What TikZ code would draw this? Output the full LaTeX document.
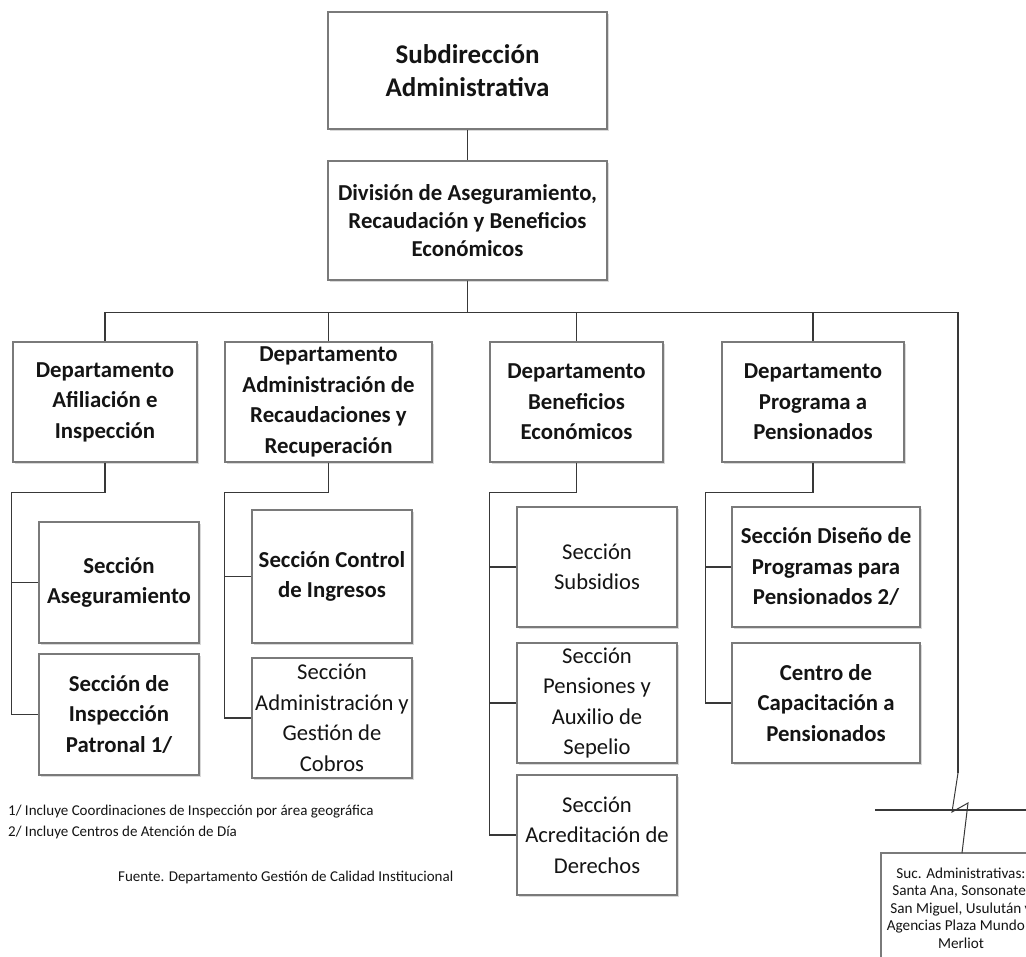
\documentclass[tikz,border=0pt]{standalone}
\usepackage{fontspec}
\setmainfont{Carlito}
\usetikzlibrary{shadows}
\definecolor{linec}{HTML}{383838}
\definecolor{boxc}{HTML}{7A7A7A}
\definecolor{txtc}{HTML}{141414}
\begin{document}
\begin{tikzpicture}[x=1pt,y=-1pt,
  box/.style={draw=boxc, line width=1.2pt, fill=white, align=center, inner sep=0pt,
    text=txtc, drop shadow={shadow xshift=2pt, shadow yshift=-2pt, fill=black, opacity=0.15}},
  conn/.style={draw=linec, line width=1.7pt},
  titlefont/.style={font=\bfseries\fontsize{27}{33}\selectfont},
  divfont/.style={font=\bfseries\fontsize{22.8}{28}\selectfont},
  hb/.style={font=\bfseries\fontsize{22.8}{30.5}\selectfont},
  hr/.style={font=\fontsize{22.6}{30.5}\selectfont},
  smallfont/.style={font=\fontsize{15.2}{17.5}\selectfont},
  note/.style={font=\fontsize{15}{17}\selectfont, anchor=west, inner sep=0pt, text=txtc}
]
\useasboundingbox (0,0) rectangle (1026,957);
\clip (0,0) rectangle (1026,957);

% top levels
\node[box, titlefont, minimum width=279pt, minimum height=117pt] (sub) at (467.5,70.5)
  {Subdirección\\Administrativa};
\node[box, divfont, minimum width=279pt, minimum height=119pt] (div) at (467.5,220.5)
  {División de Aseguramiento,\\Recaudación y Beneficios\\Económicos};

% departments
\node[box, hb, minimum width=184pt, minimum height=120pt] (d1) at (105,402)
  {Departamento\\Afiliación e\\Inspección};
\node[box, hb, minimum width=207pt, minimum height=120pt] (d2) at (328.5,402)
  {Departamento\\Administración de\\Recaudaciones y\\Recuperación};
\node[box, hb, minimum width=173pt, minimum height=120pt] (d3) at (576.5,402)
  {Departamento\\Beneficios\\Económicos};
\node[box, hb, minimum width=182pt, minimum height=120pt] (d4) at (813,402)
  {Departamento\\Programa a\\Pensionados};

% sections
\node[box, hb, minimum width=160pt, minimum height=121pt] (s11) at (119,582.5)
  {Sección\\Aseguramiento};
\node[box, hb, minimum width=160pt, minimum height=121pt] (s12) at (119,714.5)
  {Sección de\\Inspección\\Patronal 1/};
\node[box, hb, minimum width=160pt, minimum height=133pt] (s21) at (332,576.5)
  {Sección Control\\de Ingresos};
\node[box, hr, minimum width=160pt, minimum height=120pt] (s22) at (332,718)
  {Sección\\Administración y\\Gestión de\\Cobros};
\node[box, hr, minimum width=160pt, minimum height=120pt] (s31) at (597,567)
  {Sección\\Subsidios};
\node[box, hr, minimum width=160pt, minimum height=120pt] (s32) at (597,703)
  {Sección\\Pensiones y\\Auxilio de\\Sepelio};
\node[box, hr, minimum width=160pt, minimum height=120pt] (s33) at (597,835)
  {Sección\\Acreditación de\\Derechos};
\node[box, hb, minimum width=188pt, minimum height=120pt] (s41) at (826,567)
  {Sección Diseño de\\Programas para\\Pensionados 2/};
\node[box, hb, minimum width=188pt, minimum height=120pt] (s42) at (826,703)
  {Centro de\\Capacitación a\\Pensionados};

% branch offices
\node[box, smallfont, minimum width=160pt, minimum height=110pt] (suc) at (961,908)
  {Suc. Administrativas:\\Santa Ana, Sonsonate,\\San Miguel, Usulután y\\Agencias Plaza Mundo y\\Merliot};

% notes
\node[note] (fn1) at (8,812) {1/ Incluye Coordinaciones de Inspección por área geográfica};
\node[note] (fn2) at (8,832) {2/ Incluye Centros de Atención de Día};
\node[note] (src) at (118,877) {Fuente. Departamento Gestión de Calidad Institucional};

% break marks on the branch-office line
\coordinate (zz1) at (958,773);
\coordinate (zz2) at (952,812);
\coordinate (zz3) at (968,803);
\coordinate (sucin) at (962,853);
\coordinate (brkL) at (875,810);
\coordinate (brkR) at (1026,810);

% connectors
\draw[conn] (sub) -- (div);
\foreach \d in {d1,d2,d3,d4}
  \draw[conn] (div.south) -- ++(0,32) -| (\d.north);
\draw[conn] (div.south) -- ++(0,32) -| (zz1);
\draw[draw=linec, line width=1pt] (zz1) -- (zz2) -- (zz3) -- (sucin);
\draw[conn] (brkL) -- (brkR);

\draw[conn] (d1.south) -- ++(0,30) -| ([xshift=-27pt]s12.west) -- (s12.west);
\draw[conn] (s11.west) -- ++(-27,0);

\draw[conn] (d2.south) -- ++(0,30) -| ([xshift=-27pt]s22.west) -- (s22.west);
\draw[conn] (s21.west) -- ++(-27,0);

\draw[conn] (d3.south) -- ++(0,30) -| ([xshift=-27pt]s33.west) -- (s33.west);
\draw[conn] (s31.west) -- ++(-27,0);
\draw[conn] (s32.west) -- ++(-27,0);

\draw[conn] (d4.south) -- ++(0,30) -| ([xshift=-26pt]s42.west) -- (s42.west);
\draw[conn] (s41.west) -- ++(-26,0);
\end{tikzpicture}
\end{document}
